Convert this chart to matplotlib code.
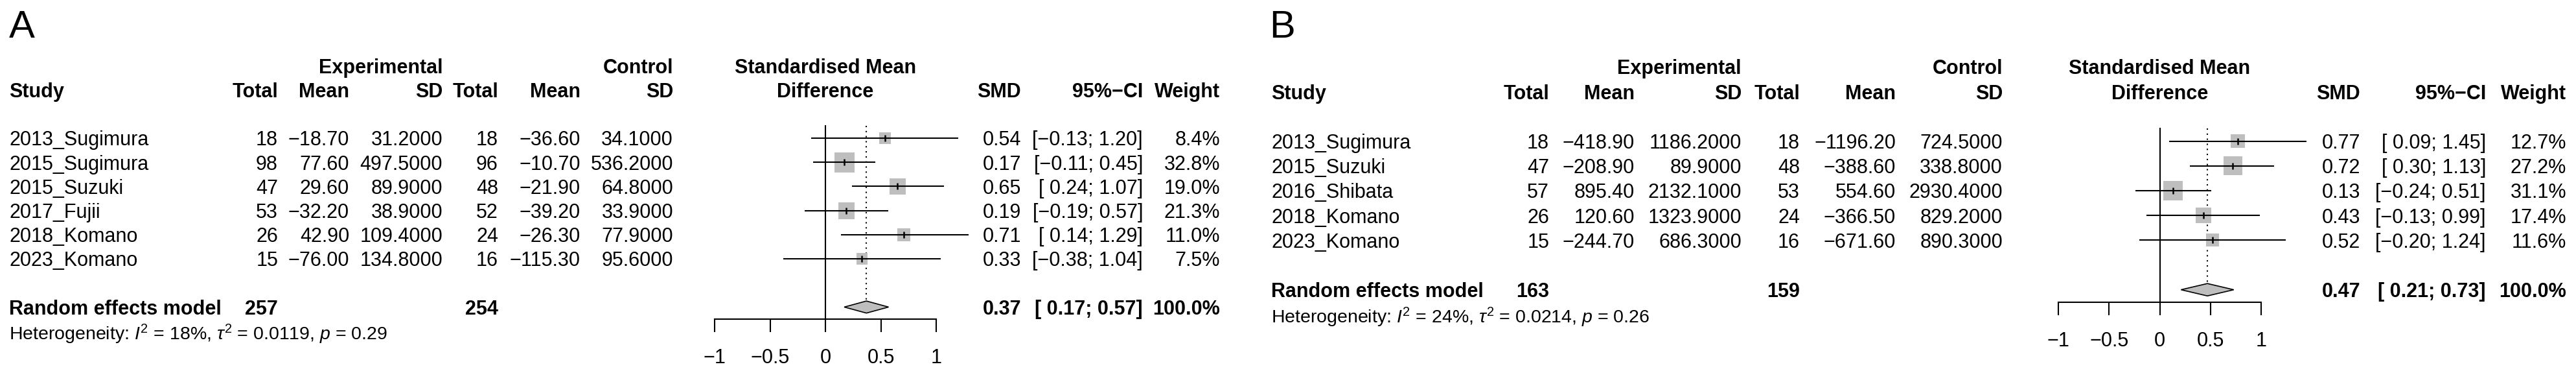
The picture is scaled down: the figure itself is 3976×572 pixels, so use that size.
import numpy as np
import matplotlib
matplotlib.use('Agg')
import matplotlib.pyplot as plt
from matplotlib.patches import Polygon
from matplotlib.transforms import blended_transform_factory

W, H = 3976, 572
DPI = 100

plt.rcParams['font.family'] = ['Liberation Sans', 'DejaVu Sans']
plt.rcParams['mathtext.fontset'] = 'custom'
plt.rcParams['mathtext.rm'] = 'Liberation Sans'
plt.rcParams['mathtext.it'] = 'Liberation Sans:italic'
plt.rcParams['mathtext.bf'] = 'Liberation Sans:bold'

FS = 22
MINUS = '\u2212'

# ---- panel A data ----
studies_a = ['2013_Sugimura', '2015_Sugimura', '2015_Suzuki', '2017_Fujii', '2018_Komano', '2023_Komano']
exp_n_a = [18, 98, 47, 53, 26, 15]
exp_mean_a = [-18.70, 77.60, 29.60, -32.20, 42.90, -76.00]
exp_sd_a = [31.2, 497.5, 89.9, 38.9, 109.4, 134.8]
ctl_n_a = [18, 96, 48, 52, 24, 16]
ctl_mean_a = [-36.60, -10.70, -21.90, -39.20, -26.30, -115.30]
ctl_sd_a = [34.1, 536.2, 64.8, 33.9, 77.9, 95.6]
smd_a = [0.54, 0.17, 0.65, 0.19, 0.71, 0.33]
lo_a = [-0.13, -0.11, 0.24, -0.19, 0.14, -0.38]
hi_a = [1.20, 0.45, 1.07, 0.57, 1.29, 1.04]
weight_a = [8.4, 32.8, 19.0, 21.3, 11.0, 7.5]
summary_a = (0.37, 0.17, 0.57)
het_a = ('18%', '0.0119', '0.29')

# ---- panel B data ----
studies_b = ['2013_Sugimura', '2015_Suzuki', '2016_Shibata', '2018_Komano', '2023_Komano']
exp_n_b = [18, 47, 57, 26, 15]
exp_mean_b = [-418.90, -208.90, 895.40, 120.60, -244.70]
exp_sd_b = [1186.2, 89.9, 2132.1, 1323.9, 686.3]
ctl_n_b = [18, 48, 53, 24, 16]
ctl_mean_b = [-1196.20, -388.60, 554.60, -366.50, -671.60]
ctl_sd_b = [724.5, 338.8, 2930.4, 829.2, 890.3]
smd_b = [0.77, 0.72, 0.13, 0.43, 0.52]
lo_b = [0.09, 0.30, -0.24, -0.13, -0.20]
hi_b = [1.45, 1.13, 0.51, 0.99, 1.24]
weight_b = [12.7, 27.2, 31.1, 17.4, 11.6]
summary_b = (0.47, 0.21, 0.73)
het_b = ('24%', '0.0214', '0.26')

tick_vals = [-1, -0.5, 0, 0.5, 1]
tick_labels = [MINUS + '1', MINUS + '0.5', '0', '0.5', '1']

# pixel layout of each panel
layout_a = dict(letter='A', letter_x=14, study_x=14, row0=213, sp=37.2, axis=(1103, 1445),
                cols=[429, 539, 683, 769, 896, 1039, 1576, 1764, 1883])
layout_b = dict(letter='B', letter_x=1959, study_x=1962, row0=217.5, sp=38.2, axis=(3177, 3490),
                cols=[2391, 2523, 2688, 2778, 2926, 3091, 3643, 3837, 3961])


def num(v, d):
    return f'{v:.{d}f}'.replace('-', MINUS)


def ci_text(lo, hi):
    l = num(lo, 2)
    if lo >= 0:
        l = ' ' + l
    return f'[{l}; {num(hi, 2)}]'


def panel(fig, lay, studies, en, em, esd, cn, cm, csd, smd, lo, hi, w, summ, het):
    n = len(studies)
    row0, sp = lay['row0'], lay['sp']
    x0, x1 = lay['axis']
    ax = fig.add_axes([x0 / W, 0, (x1 - x0) / W, 1])
    ax.set_xlim(-1, 1)
    ax.set_ylim((H - row0) / sp, -row0 / sp)
    ax.patch.set_visible(False)
    for s in ['top', 'left', 'right']:
        ax.spines[s].set_visible(False)
    ax.spines['bottom'].set_position(('data', n + 1.5))
    ax.spines['bottom'].set_linewidth(1.5)
    ax.set_yticks([])
    ax.set_xticks(tick_vals)
    ax.set_xticklabels(tick_labels)
    ax.tick_params(axis='x', direction='out', length=14.4, width=1.5, pad=18, labelsize=FS)

    rows = np.arange(n)
    sides = (4.7 + 4.6 * np.sqrt(w)) * 72 / DPI
    ax.scatter(smd, rows, marker='s', s=sides ** 2, color='#bebebe', linewidths=0, zorder=2)
    ax.hlines(rows, lo, hi, color='black', lw=1.5, zorder=3, clip_on=False)
    ax.plot(smd, rows, '|', ms=7.5, mew=1.8, color='black', zorder=4, clip_on=False)

    est, slo, shi = summ
    ys = n + 1
    ax.plot([0, 0], [-0.5, n + 1.5], color='black', lw=1.5, zorder=1)
    ax.plot([est, est], [-0.5, ys - 0.25], color='black', lw=1.5, dashes=(1, 2.75), zorder=1)
    ax.add_patch(Polygon([[slo, ys], [est, ys - 0.25], [shi, ys], [est, ys + 0.25]],
                         closed=True, fc='#bebebe', ec='black', lw=1.2, zorder=3))

    tr = blended_transform_factory(fig.transFigure, ax.transData)

    def t(px, r, s, ha='right', bold=False, size=FS):
        ax.text(px / W, r, s, transform=tr, ha=ha, va='center_baseline', fontsize=size,
                fontweight='bold' if bold else 'normal', clip_on=False)

    c = lay['cols']
    fig.text(lay['letter_x'] / W, 1 - 58 / H, lay['letter'], fontsize=43, ha='left', va='baseline')

    # headers
    t(c[2], -3, 'Experimental', bold=True)
    t(c[5], -3, 'Control', bold=True)
    t(lay['study_x'], -2, 'Study', ha='left', bold=True)
    for px, s in zip(c[:6], ['Total', 'Mean', 'SD', 'Total', 'Mean', 'SD']):
        t(px, -2, s, bold=True)
    ax.text(0, -3, 'Standardised Mean', ha='center', va='center_baseline', fontsize=FS,
            fontweight='bold', clip_on=False)
    ax.text(0, -2, 'Difference', ha='center', va='center_baseline', fontsize=FS,
            fontweight='bold', clip_on=False)
    t(c[6], -2, 'SMD', bold=True)
    t(c[7], -2, '95%' + MINUS + 'CI', bold=True)
    t(c[8], -2, 'Weight', bold=True)

    # study rows
    for i in range(n):
        t(lay['study_x'], i, studies[i], ha='left')
        t(c[0], i, str(en[i]))
        t(c[1], i, num(em[i], 2))
        t(c[2], i, num(esd[i], 4))
        t(c[3], i, str(cn[i]))
        t(c[4], i, num(cm[i], 2))
        t(c[5], i, num(csd[i], 4))
        t(c[6], i, num(smd[i], 2))
        t(c[7], i, ci_text(lo[i], hi[i]))
        t(c[8], i, f'{w[i]:.1f}%')

    # summary
    t(lay['study_x'], ys, 'Random effects model', ha='left', bold=True)
    t(c[0], ys, str(sum(en)), bold=True)
    t(c[3], ys, str(sum(cn)), bold=True)
    t(c[6], ys, num(est, 2), bold=True)
    t(c[7], ys, ci_text(slo, shi), bold=True)
    t(c[8], ys, '100.0%', bold=True)

    i2, tau2, p = het
    t(lay['study_x'], ys + 1,
      'Heterogeneity: $I^2$ = ' + i2 + r', $\tau^2$ = ' + tau2 + ', $p$ = ' + p,
      ha='left', size=20.5)
    return ax


fig = plt.figure(figsize=(W / DPI, H / DPI), dpi=DPI)
panel(fig, layout_a, studies_a, exp_n_a, exp_mean_a, exp_sd_a, ctl_n_a, ctl_mean_a, ctl_sd_a,
      smd_a, lo_a, hi_a, weight_a, summary_a, het_a)
panel(fig, layout_b, studies_b, exp_n_b, exp_mean_b, exp_sd_b, ctl_n_b, ctl_mean_b, ctl_sd_b,
      smd_b, lo_b, hi_b, weight_b, summary_b, het_b)
fig.savefig('out.png', dpi=DPI, facecolor='white')
